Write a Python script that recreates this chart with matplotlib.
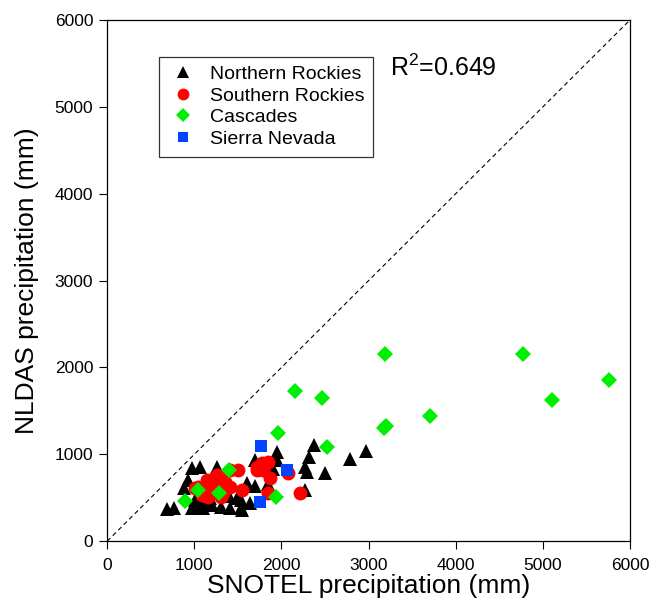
import matplotlib
matplotlib.use('Agg')
import matplotlib.pyplot as plt

plt.rcParams['font.family'] = ['Liberation Sans', 'DejaVu Sans']
plt.rcParams['mathtext.fontset'] = 'custom'
plt.rcParams['mathtext.rm'] = 'Liberation Sans'

# SNOTEL vs NLDAS annual precipitation (mm), by region

nr_x = [690, 770, 880, 930, 975, 975, 1010, 1070, 1100, 1150, 1200, 1260, 1300, 1410,
        1490, 1530, 1530, 1550, 1600, 1640, 1700, 1700, 1780, 1950, 1950, 2270, 2290,
        2320, 2370, 2500, 2270, 2790, 2970, 1120, 1250, 1350, 1850, 1900, 1400, 1060, 1180]
nr_y = [370, 380, 610, 700, 840, 380, 470, 850, 380, 440, 420, 850, 390, 380,
        500, 470, 380, 360, 670, 440, 640, 930, 820, 1030, 930, 850, 800,
        970, 1110, 780, 590, 950, 1040, 560, 620, 700, 660, 830, 520, 420, 500]

sr_x = [1010, 1045, 1090, 1160, 1160, 1150, 1260, 1300, 1300, 1330, 1410, 1410, 1500,
        1550, 1720, 1720, 1780, 1840, 1790, 1870, 1840, 2070, 2210, 1200, 1250, 1350]
sr_y = [610, 620, 530, 670, 510, 700, 760, 740, 510, 560, 620, 820, 820,
        590, 850, 820, 900, 910, 820, 730, 560, 780, 560, 650, 600, 680]

ca_x = [3190, 4770, 5760, 5110, 3700, 3200, 3180, 2160, 2460, 1960, 2520, 1400, 1040,
        1280, 890, 1940]
ca_y = [2150, 2150, 1850, 1620, 1440, 1330, 1300, 1730, 1650, 1250, 1080, 820, 590,
        560, 460, 510]

sn_x = [1770, 2060, 1755]
sn_y = [1095, 815, 450]

r2 = 0.649

fig = plt.figure(figsize=(6.66, 6.04), dpi=100)
ax = fig.add_axes([0.161, 0.104, 0.785, 0.863])

ax.plot([0, 6000], [0, 6000], color='black', lw=0.8, ls=(0, (4, 3)), zorder=1)

ax.plot(nr_x, nr_y, ls='none', marker='^', ms=9.5, color='black', mew=0,
        label='Northern Rockies', zorder=2)
ax.plot(sr_x, sr_y, ls='none', marker='o', ms=10, color='#ff0000', mew=0,
        label='Southern Rockies', zorder=3)
ax.plot(ca_x, ca_y, ls='none', marker='D', ms=7.8, color='#00ee00', mew=0,
        label='Cascades', zorder=4)
ax.plot(sn_x, sn_y, ls='none', marker='s', ms=9, color='#0044ff', mew=0,
        label='Sierra Nevada', zorder=5)

ax.set_xlim(0, 6000)
ax.set_ylim(0, 6000)
ax.set_xticks(range(0, 6001, 1000))
ax.set_yticks(range(0, 6001, 1000))
ax.tick_params(direction='out', length=6, width=0.8, labelsize=12.5, pad=4)
ax.tick_params(axis='x', pad=6)
for s in ax.spines.values():
    s.set_linewidth(0.9)

ax.set_xlabel('SNOTEL precipitation (mm)', fontsize=19, labelpad=1)
ax.set_ylabel('NLDAS precipitation (mm)', fontsize=19, labelpad=11)

ax.text(3250, 5357, r'R$^{\rm 2}$=' + f'{r2:.3f}', fontsize=18, va='baseline')

leg = ax.legend(loc='upper left', bbox_to_anchor=(0.099, 0.929), borderaxespad=0,
                fontsize=14, fancybox=False, frameon=True, edgecolor='black',
                markerscale=0.85, handletextpad=0.55, labelspacing=0.2,
                borderpad=0.45, handlelength=1.6)
leg.get_frame().set_linewidth(0.9)

fig.savefig('out.png', dpi=100)
